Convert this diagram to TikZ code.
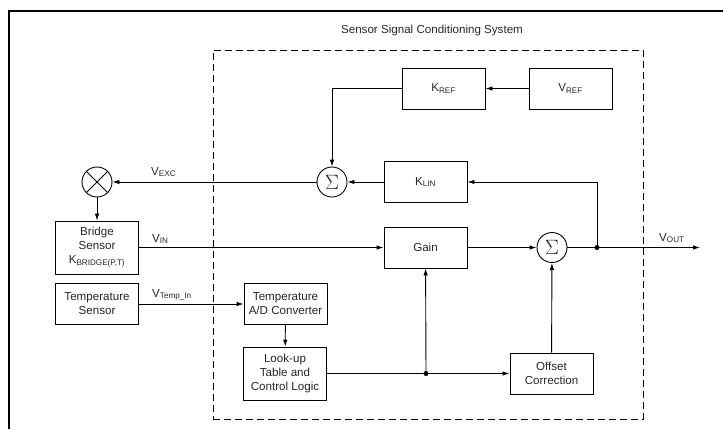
\documentclass[tikz,border=0pt]{standalone}
\usepackage{fontspec}
\setmainfont{Liberation Sans}
\usetikzlibrary{arrows.meta}

\begin{document}
\begin{tikzpicture}[x=1pt, y=-1pt,
  every node/.style={font=\fontsize{11.6}{14}\selectfont, text=black!85},
  blk/.style={draw, line width=0.9pt, minimum width=83pt, minimum height=41pt,
              align=center, inner sep=1pt},
  tallblk/.style={blk, minimum height=53pt},
  sumnode/.style={draw, circle, minimum size=30pt, inner sep=0pt, line width=0.9pt,
                  font=\fontsize{21}{21}\selectfont},
  sig/.style={line width=0.9pt, -{Latex[length=7pt,width=4.5pt]}},
  wire/.style={line width=0.9pt},
  jdot/.style={circle, fill, inner sep=0pt, minimum size=5pt},
  lbl/.style={anchor=base west, inner sep=0pt}
]
\useasboundingbox (0,0) rectangle (723,429);

% page frame (open to the right and bottom)
\draw[line width=1.2pt] (9,429) -- (9,11) -- (723,11);

% system boundary and its title
\node[draw, dashed, dash pattern=on 7pt off 4pt, line width=0.9pt,
      minimum width=430pt, minimum height=369pt, inner sep=0pt] (sys) at (428,234.5) {};
\node (title) at (432,30) {Sensor Signal Conditioning System};

% blocks
\node[blk] (kref) at (443.5,88.5) {K\textsubscript{REF}};
\node[blk] (vref) at (570.5,88.5) {V\textsubscript{REF}};
\node[blk] (klin) at (425.5,182) {K\textsubscript{LIN}};
\node[blk] (gain) at (425.5,247.5) {Gain};
\node[tallblk] (bridge) at (97,247.5) {Bridge\\Sensor\\K\textsubscript{BRIDGE(P,T)}};
\node[blk] (tsens) at (97,304) {Temperature\\Sensor};
\node[blk] (adc) at (285.5,304) {Temperature\\A/D Converter};
\node[tallblk] (lut) at (285,373.5) {Look-up\\Table and\\Control Logic};
\node[blk] (offs) at (551.5,373.5) {Offset\\Correction};

% summing junctions and multiplier
\node[sumnode] (sum1) at (332,182) {$\Sigma$};
\node[sumnode] (sum2) at (552,247.5) {$\Sigma$};
\node[sumnode] (mult) at (97,182) {};
\draw[line width=0.9pt] (mult.north west) -- (mult.south east)
                        (mult.north east) -- (mult.south west);

% branch points and output
\node[jdot] (jout) at (597,247.5) {};
\node[jdot] (jlut) at (426,373.5) {};
\coordinate (out) at (700,247.5);

% signal paths
\draw[sig] (vref) -- (kref);
\draw[sig] (kref.west) -| (sum1.north);
\draw[sig] (klin) -- (sum1);
\draw[sig] (sum1) -- (mult);
\draw[sig] (mult) -- (bridge);
\draw[sig] (bridge) -- (gain);
\draw[sig] (gain) -- (sum2);
\draw[sig] (sum2) -- (out);
\draw[sig] (jout.center) |- (klin.east);
\draw[sig] (tsens) -- (adc);
\draw[sig] (adc) -- (lut);
\draw[wire] (lut) -- (jlut.center);
\draw[sig] (jlut.center) -- (offs);
\draw[sig] (jlut.center) -- (gain);
\draw[sig] (offs) -- (sum2);

% signal names
\node[lbl] (vexc) at (151,175) {V\textsubscript{EXC}};
\node[lbl] (vin) at (152,242) {V\textsubscript{IN}};
\node[lbl] (vtemp) at (152,297) {V\textsubscript{Temp\_In}};
\node[lbl] (vout) at (659,241) {V\textsubscript{OUT}};
\end{tikzpicture}
\end{document}
